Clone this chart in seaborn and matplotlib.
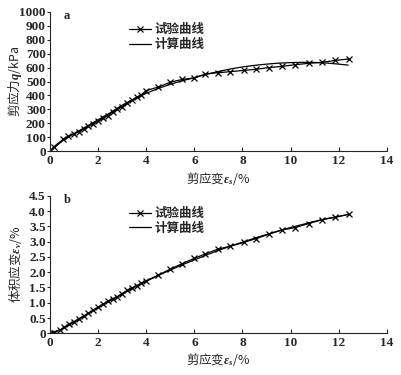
import numpy as np
import pandas as pd
import matplotlib
matplotlib.use('Agg')
import matplotlib.pyplot as plt
from matplotlib.ticker import FuncFormatter
import seaborn as sns

# test curve (a): shear stress vs shear strain
test_es_a = [0, 0.15, 0.55, 0.75, 1.0, 1.2, 1.4, 1.6, 1.8, 2.0, 2.2, 2.4, 2.6, 2.8, 3.0,
             3.2, 3.4, 3.6, 3.8, 4.0, 4.5, 5.0, 5.5, 6.0, 6.46, 6.97, 7.5, 8.05, 8.57,
             9.1, 9.65, 10.2, 10.76, 11.32, 11.87, 12.43]
test_q = [0, 30, 85, 105, 125, 140, 160, 178, 195, 215, 235, 255, 280, 300, 320,
          345, 365, 385, 405, 435, 460, 495, 515, 525, 554, 563, 571, 580, 588,
          600, 609, 621, 631, 638, 652, 662]
# calculated curve (a)
calc_es_a = [0, 0.5, 1, 1.5, 2, 2.5, 3, 3.5, 4, 4.5, 5, 5.5, 6, 6.5, 7, 7.5, 8, 8.5,
             9, 9.5, 10, 10.5, 11, 11.5, 12, 12.4]
calc_q = [0, 70, 125, 175, 225, 275, 330, 375, 415, 450, 480, 505, 528, 552, 572,
          590, 605, 616, 625, 632, 636, 638, 637, 633, 625, 618]

# test curve (b): volumetric strain vs shear strain
test_es_b = [0, 0.15, 0.4, 0.6, 0.8, 1.0, 1.2, 1.4, 1.6, 1.8, 2.0, 2.2, 2.4, 2.6, 2.8,
             3.0, 3.2, 3.4, 3.6, 3.8, 4.0, 4.5, 5.0, 5.5, 6.0, 6.46, 6.97, 7.5, 8.05,
             8.57, 9.1, 9.65, 10.2, 10.76, 11.32, 11.87, 12.43]
test_ev = [0, 0.02, 0.1, 0.2, 0.3, 0.38, 0.48, 0.56, 0.65, 0.75, 0.85, 0.95, 1.05,
           1.13, 1.2, 1.3, 1.4, 1.48, 1.56, 1.64, 1.72, 1.9, 2.1, 2.28, 2.45, 2.6,
           2.75, 2.85, 2.97, 3.1, 3.24, 3.38, 3.46, 3.59, 3.72, 3.79, 3.9]
# calculated curve (b)
calc_es_b = [0, 0.5, 1, 1.5, 2, 2.5, 3, 3.5, 4, 4.5, 5, 5.5, 6, 6.5, 7, 7.5, 8, 8.5,
             9, 9.5, 10, 10.5, 11, 11.5, 12, 12.4]
calc_ev = [0, 0.14, 0.37, 0.61, 0.84, 1.07, 1.28, 1.5, 1.7, 1.89, 2.07, 2.24, 2.4,
           2.56, 2.71, 2.85, 2.98, 3.11, 3.23, 3.35, 3.46, 3.56, 3.66, 3.75, 3.83, 3.88]

legend_labels = ['试验曲线', '计算曲线']

sns.set_style('ticks')
plt.rcParams['font.family'] = ['Liberation Serif', 'Noto Sans CJK SC']
plt.rcParams['font.weight'] = 'bold'
plt.rcParams['mathtext.fontset'] = 'custom'
plt.rcParams['mathtext.it'] = 'Liberation Serif:italic'
plt.rcParams['mathtext.rm'] = 'Liberation Serif'

fig = plt.figure(figsize=(4.02, 3.75), dpi=100)
ax1 = fig.add_axes([0.1244, 0.5973, 0.8376, 0.3707])
ax2 = fig.add_axes([0.1244, 0.1112, 0.8376, 0.3669])

cjk = 'Noto Sans CJK SC'


def draw(ax, tx, ty, cx, cy):
    dt = pd.DataFrame({'x': tx, 'y': ty})
    dc = pd.DataFrame({'x': cx, 'y': cy})
    sns.lineplot(data=dt, x='x', y='y', ax=ax, color='black', lw=0.9, marker='x',
                 markersize=5, markeredgewidth=0.9, markeredgecolor='black',
                 sort=False, label=legend_labels[0])
    sns.lineplot(data=dc, x='x', y='y', ax=ax, color='black', lw=0.9,
                 sort=False, label=legend_labels[1])
    ax.set_xlim(0, 14)
    ax.set_xticks(np.arange(0, 15, 2))
    ax.tick_params(axis='x', direction='in', length=3, labelsize=9.5, pad=3)
    ax.tick_params(axis='y', direction='out', length=2, labelsize=9.5, pad=1)
    for s in ['top', 'right']:
        ax.spines[s].set_visible(False)
    for s in ['left', 'bottom']:
        ax.spines[s].set_linewidth(0.8)
    ax.legend(loc='upper left', bbox_to_anchor=(0.2, 1.0), frameon=False,
              handlelength=1.8, handletextpad=0.3, labelspacing=0.15,
              prop={'family': cjk, 'size': 9})
    ax.yaxis.set_label_coords(-0.076, 0.5)


draw(ax1, test_es_a, test_q, calc_es_a, calc_q)
ax1.set_ylim(0, 1000)
ax1.set_yticks(np.arange(0, 1001, 100))
ax1.text(0.04, 0.95, 'a', transform=ax1.transAxes, fontsize=9, fontweight='bold')
ax1.set_xlabel(r'剪应变$\varepsilon_s$/%', fontfamily=cjk, fontsize=9, labelpad=2)
ax1.set_ylabel(r'剪应力$q$/kPa', fontfamily=cjk, fontsize=9)

draw(ax2, test_es_b, test_ev, calc_es_b, calc_ev)
ax2.set_ylim(0, 4.5)
ax2.set_yticks(np.arange(0, 4.51, 0.5))
ax2.yaxis.set_major_formatter(FuncFormatter(lambda v, p: '0' if v == 0 else f'{v:.1f}'))
ax2.text(0.04, 0.95, 'b', transform=ax2.transAxes, fontsize=9, fontweight='bold')
ax2.set_xlabel(r'剪应变$\varepsilon_s$/%', fontfamily=cjk, fontsize=9, labelpad=1)
ax2.set_ylabel(r'体积应变$\varepsilon_v$/%', fontfamily=cjk, fontsize=9)

fig.savefig('out.png', dpi=100)
